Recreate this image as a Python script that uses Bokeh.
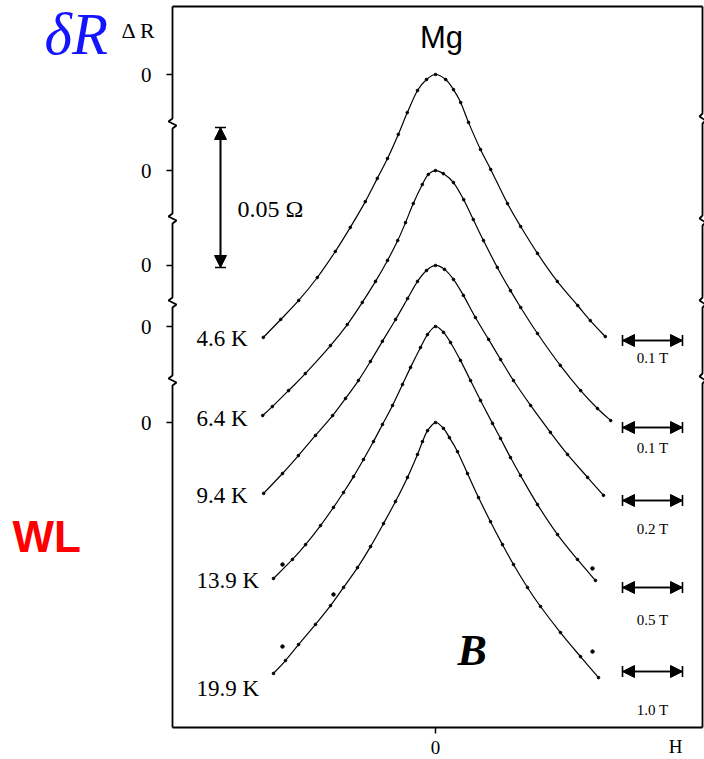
from bokeh.plotting import figure
from bokeh.models import (Range1d, FixedTicker, Label, Arrow, NormalHead, TeeHead,
                          ColumnDataSource, CustomJSTickFormatter, LinearAxis)
from bokeh.embed import file_html
from bokeh.resources import INLINE

# ---------------- data ----------------
temps = ["4.6 K", "6.4 K", "9.4 K", "13.9 K", "19.9 K"]
field_scales = [0.1, 0.1, 0.2, 0.5, 1.0]          # tesla represented by each horizontal scale bar
scale_labels = ["0.1 T", "0.1 T", "0.2 T", "0.5 T", "1.0 T"]
zero_offsets = [0.0, -0.0343, -0.0682, -0.0900, -0.1243]  # ohm, vertical shift of each trace
res_bar = 0.05                                      # ohm, vertical scale bar
res_bar_label = "0.05 \u03a9"

H_46 = [-0.287, -0.258, -0.228, -0.197, -0.167, -0.142, -0.117, -0.097, -0.080, -0.062, -0.047,
        -0.030, -0.015, 0.0, 0.017, 0.030, 0.042, 0.055, 0.075, 0.092, 0.120, 0.142, 0.170,
        0.203, 0.237, 0.258, 0.283]
dR_46 = [-0.0939, -0.0875, -0.0807, -0.0725, -0.0632, -0.0546, -0.0454, -0.0371, -0.0300, -0.0214,
         -0.0136, -0.0057, -0.0018, 0.0, -0.0018, -0.0054, -0.0100, -0.0171, -0.0268, -0.0339,
         -0.0461, -0.0543, -0.0639, -0.0739, -0.0825, -0.0879, -0.0936]

H_64 = [-0.288, -0.272, -0.245, -0.217, -0.175, -0.147, -0.122, -0.100, -0.080, -0.063, -0.050,
        -0.037, -0.022, -0.012, 0.0, 0.013, 0.030, 0.047, 0.063, 0.080, 0.103, 0.125, 0.142,
        0.170, 0.208, 0.242, 0.270, 0.292]
dR_64 = [-0.0875, -0.0843, -0.0786, -0.0725, -0.0625, -0.0550, -0.0471, -0.0396, -0.0321, -0.0250,
         -0.0186, -0.0118, -0.0050, -0.0014, 0.0, -0.0011, -0.0043, -0.0104, -0.0175, -0.0250,
         -0.0346, -0.0429, -0.0489, -0.0582, -0.0696, -0.0786, -0.0850, -0.0893]

H_94 = [-0.573, -0.510, -0.457, -0.400, -0.343, -0.300, -0.257, -0.217, -0.177, -0.133, -0.093,
        -0.060, -0.030, 0.0, 0.030, 0.060, 0.093, 0.133, 0.177, 0.217, 0.260, 0.317, 0.383,
        0.440, 0.507, 0.560]
dR_94 = [-0.0814, -0.0743, -0.0679, -0.0607, -0.0536, -0.0475, -0.0411, -0.0343, -0.0271, -0.0193,
         -0.0118, -0.0057, -0.0018, 0.0, -0.0014, -0.0050, -0.0107, -0.0186, -0.0264, -0.0336,
         -0.0411, -0.0500, -0.0596, -0.0675, -0.0757, -0.0821]

H_139 = [-1.350, -1.192, -1.083, -0.958, -0.850, -0.767, -0.683, -0.600, -0.517, -0.442, -0.358,
         -0.275, -0.208, -0.125, -0.067, 0.0, 0.067, 0.125, 0.208, 0.292, 0.375, 0.475, 0.542,
         0.625, 0.708, 0.850, 1.017, 1.183, 1.333]
dR_139 = [-0.0900, -0.0832, -0.0779, -0.0711, -0.0646, -0.0593, -0.0536, -0.0475, -0.0411, -0.0350,
          -0.0282, -0.0207, -0.0146, -0.0075, -0.0029, 0.0, -0.0021, -0.0057, -0.0121, -0.0193,
          -0.0264, -0.0346, -0.0400, -0.0468, -0.0532, -0.0636, -0.0743, -0.0832, -0.0907]

H_199 = [-2.700, -2.500, -2.283, -2.000, -1.750, -1.533, -1.300, -1.083, -0.867, -0.667, -0.467,
         -0.300, -0.217, -0.133, 0.0, 0.133, 0.233, 0.367, 0.533, 0.717, 0.917, 1.117, 1.300,
         1.533, 1.750, 2.083, 2.417, 2.717]
dR_199 = [-0.0896, -0.0850, -0.0793, -0.0721, -0.0654, -0.0589, -0.0518, -0.0443, -0.0361, -0.0282,
          -0.0196, -0.0114, -0.0068, -0.0029, 0.0, -0.0021, -0.0054, -0.0104, -0.0182, -0.0268,
          -0.0354, -0.0436, -0.0507, -0.0589, -0.0657, -0.0750, -0.0836, -0.0911]

out_H_139 = [-1.275, 1.308]
out_dR_139 = [-0.0850, -0.0864]
out_H_199 = [-2.550, 2.617, -1.700]
out_dR_199 = [-0.0800, -0.0818, -0.0614]

curves_H = [H_46, H_64, H_94, H_139, H_199]
curves_dR = [dR_46, dR_64, dR_94, dR_139, dR_199]

# ---------------- layout helpers (canvas pixel -> data) ----------------
PXU, PXO, X0, Y0 = 60.0, 2800.0, 435.0, 74.0
def dx(px): return (px - X0) / PXU
def dy(py): return -(py - Y0) / PXO

W, Hh = 704, 759
LEFT, TOP, RIGHT, BOTTOM = 172, 6, 702, 727
p = figure(width=W, height=Hh, output_backend="svg", toolbar_location=None,
           x_range=Range1d(dx(0), dx(W)), y_range=Range1d(dy(Hh), dy(0)),
           x_axis_type=None, y_axis_type=None,
           min_border_left=0, min_border_right=0, min_border_top=0, min_border_bottom=0)
p.grid.visible = False
p.outline_line_color = None
p.background_fill_color = "white"
p.border_fill_color = "white"

SERIF = "Liberation Serif"

# axes drawn at the box edges
ya = LinearAxis(fixed_location=dx(LEFT), ticker=FixedTicker(ticks=zero_offsets),
                formatter=CustomJSTickFormatter(code="return '0'"))
ya.axis_line_color = None
ya.major_tick_in = 0
ya.major_tick_out = 6
ya.major_tick_line_width = 1.5
ya.minor_tick_line_color = None
ya.major_label_standoff = 15
ya.major_label_text_font = SERIF
ya.major_label_text_font_size = "21px"
ya.major_label_text_color = "black"
p.add_layout(ya, "left")

xa = LinearAxis(fixed_location=dy(BOTTOM), ticker=FixedTicker(ticks=[0]),
                formatter=CustomJSTickFormatter(code="return '0'"))
xa.axis_line_color = None
xa.major_tick_in = 0
xa.major_tick_out = 6
xa.major_tick_line_width = 1.5
xa.minor_tick_line_color = None
xa.major_label_standoff = 7
xa.major_label_text_font = SERIF
xa.major_label_text_font_size = "19px"
xa.major_label_text_color = "black"
p.add_layout(xa, "below")

# ---------------- box with axis breaks ----------------
def edge(xe, breaks, amp):
    xs, ys = [xe], [dy(TOP)]
    for yb in breaks:
        xs += [xe, xe - amp / PXU, xe + amp / PXU, xe]
        ys += [dy(yb - 5), dy(yb - 2), dy(yb + 2), dy(yb + 5)]
    xs.append(xe)
    ys.append(dy(BOTTOM))
    return xs, ys

lx, ly = edge(dx(LEFT), [123, 218, 302, 380], 4)
rx, ry = edge(dx(RIGHT), [118, 220, 302, 378], 3)
p.line(lx, ly, line_color="black", line_width=1.8)
p.line(rx, ry, line_color="black", line_width=1.8)
p.line([dx(LEFT), dx(RIGHT)], [dy(TOP), dy(TOP)], line_color="black", line_width=1.8)
p.line([dx(LEFT), dx(RIGHT)], [dy(BOTTOM), dy(BOTTOM)], line_color="black", line_width=1.8)

# ---------------- traces (smooth Catmull-Rom drawn as Bezier segments) ----------------
def bez(xs, ys):
    n = len(xs)
    d = dict(x0=[], y0=[], x1=[], y1=[], cx0=[], cy0=[], cx1=[], cy1=[])
    for i in range(n - 1):
        im, ip2 = max(i - 1, 0), min(i + 2, n - 1)
        d["x0"].append(xs[i]); d["y0"].append(ys[i])
        d["x1"].append(xs[i + 1]); d["y1"].append(ys[i + 1])
        d["cx0"].append(xs[i] + (xs[i + 1] - xs[im]) / 6)
        d["cy0"].append(ys[i] + (ys[i + 1] - ys[im]) / 6)
        d["cx1"].append(xs[i + 1] - (xs[ip2] - xs[i]) / 6)
        d["cy1"].append(ys[i + 1] - (ys[ip2] - ys[i]) / 6)
    return ColumnDataSource(d)

for Hs, dRs, sc, off in zip(curves_H, curves_dR, field_scales, zero_offsets):
    xs = [h / sc for h in Hs]
    ys = [d + off for d in dRs]
    p.bezier(x0="x0", y0="y0", x1="x1", y1="y1", cx0="cx0", cy0="cy0", cx1="cx1", cy1="cy1",
             source=bez(xs, ys), line_color="black", line_width=1.2)
    p.scatter(xs, ys, size=2.6, color="black")

for oh, od, sc, off in [(out_H_139, out_dR_139, field_scales[3], zero_offsets[3]),
                        (out_H_199, out_dR_199, field_scales[4], zero_offsets[4])]:
    p.scatter([h / sc for h in oh], [d + off for d in od], size=3.5, color="black")

# ---------------- scale bars ----------------
def heads(kind):
    if kind == "n":
        return dict(start=NormalHead(size=12, fill_color="black", line_color="black", line_width=1),
                    end=NormalHead(size=12, fill_color="black", line_color="black", line_width=1))
    return dict(start=TeeHead(size=11, line_color="black", line_width=1.6),
                end=TeeHead(size=11, line_color="black", line_width=1.6))

vx, vtop = dx(220), dy(127)
for k in ("n", "t"):
    p.add_layout(Arrow(x_start=vx, y_start=vtop, x_end=vx, y_end=vtop - res_bar,
                       line_color="black", line_width=1.6, **heads(k)))
p.add_layout(Label(x=dx(237), y=dy(208), text=res_bar_label, text_font=SERIF, text_color="black",
                   text_font_size="24px", text_baseline="middle", text_align="left"))

bar_py = [340, 427, 500, 587, 671]
lab_py = [357, 447, 528, 619, 709]
bx0 = dx(622)
for i in range(5):
    for k in ("n", "t"):
        p.add_layout(Arrow(x_start=bx0, y_start=dy(bar_py[i]), x_end=bx0 + 1.0, y_end=dy(bar_py[i]),
                           line_color="black", line_width=1.6, **heads(k)))
    p.add_layout(Label(x=bx0 + 0.5, y=dy(lab_py[i]), text=scale_labels[i], text_font=SERIF,
                       text_color="black", text_font_size="15px", text_align="center",
                       text_baseline="middle"))

# ---------------- temperature labels ----------------
temp_py = [338, 418, 495, 580, 688]
for t, ty in zip(temps, temp_py):
    p.add_layout(Label(x=dx(196), y=dy(ty), text=t, text_font=SERIF, text_font_size="23px",
                       text_color="black", text_align="left", text_baseline="middle"))

# ---------------- other texts ----------------
p.add_layout(Label(x=dx(44), y=dy(33), text="\u03b4R", text_font=SERIF, text_font_style="italic",
                   text_font_size="59px", text_color="#1414ff", text_align="left",
                   text_baseline="middle"))
p.add_layout(Label(x=dx(121), y=dy(30), text="\u0394 R", text_font=SERIF, text_font_size="22px",
                   text_color="black", text_align="left", text_baseline="middle"))
p.add_layout(Label(x=dx(441), y=dy(37), text="Mg", text_font="Liberation Sans", text_color="black",
                   text_font_size="31px", text_align="center", text_baseline="middle"))
p.add_layout(Label(x=dx(12), y=dy(536), text="WL", text_font="Liberation Sans",
                   text_font_style="bold", text_font_size="44px", text_color="#ff0000",
                   text_align="left", text_baseline="middle"))
p.add_layout(Label(x=dx(457), y=dy(650), text="B", text_font=SERIF, text_font_style="bold italic",
                   text_font_size="44px", text_color="black", text_align="left",
                   text_baseline="middle"))
p.add_layout(Label(x=dx(675), y=dy(746), text="H", text_font=SERIF, text_font_size="19px",
                   text_color="black", text_align="center", text_baseline="middle"))

open("out.html", "w").write(file_html(p, INLINE))
